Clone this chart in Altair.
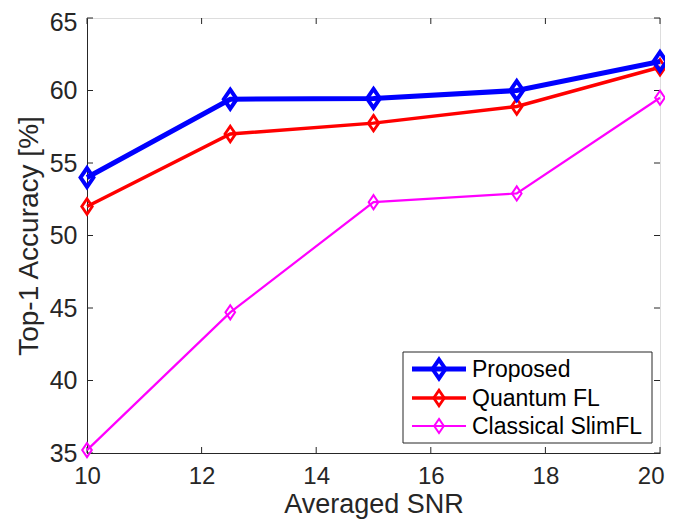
import altair as alt
import pandas as pd

snr = [10, 12.5, 15, 17.5, 20]
proposed = [54.0, 59.4, 59.45, 60.0, 62.0]
quantum = [52.0, 57.0, 57.75, 58.9, 61.6]
classical = [35.2, 44.7, 52.3, 52.9, 59.5]

names = ["Proposed", "Quantum FL", "Classical SlimFL"]
colors = ["#0000FF", "#FF0000", "#FF00FF"]
widths = [5, 3.5, 2.2]
msizes = [360, 240, 200]
mstroke = [4, 2.8, 2]

x_ticks = [10, 12, 14, 16, 18, 20]
y_ticks = [35, 40, 45, 50, 55, 60, 65]

W, H = 573, 435
FONT = "Liberation Sans"
AX = "#262626"
DIAMOND = "M0,-1L0.68,0L0,1L-0.68,0Z"

xs = alt.Scale(domain=[10, 20], nice=False, zero=False)
ys = alt.Scale(domain=[35, 65], nice=False, zero=False)

series = [proposed, quantum, classical]
layers = []

# ticks inside the box
xt = pd.DataFrame({"x": x_ticks})
yt = pd.DataFrame({"y": y_ticks})
layers.append(alt.Chart(xt).mark_rule(color=AX, strokeWidth=1).encode(
    x=alt.X("x:Q", scale=xs), y=alt.value(H), y2=alt.value(H - 6)))
layers.append(alt.Chart(xt).mark_rule(color=AX, strokeWidth=1).encode(
    x=alt.X("x:Q", scale=xs), y=alt.value(0), y2=alt.value(6)))
layers.append(alt.Chart(yt).mark_rule(color=AX, strokeWidth=1).encode(
    y=alt.Y("y:Q", scale=ys), x=alt.value(0), x2=alt.value(6)))
layers.append(alt.Chart(yt).mark_rule(color=AX, strokeWidth=1).encode(
    y=alt.Y("y:Q", scale=ys), x=alt.value(W), x2=alt.value(W - 6)))

for i in [2, 1, 0]:
    df = pd.DataFrame({"snr": snr, "acc": series[i]})
    base = alt.Chart(df).encode(
        x=alt.X("snr:Q", scale=xs,
                axis=alt.Axis(values=x_ticks, format="d", title="Averaged SNR", grid=False,
                              tickSize=0, domainColor=AX, labelColor=AX, labelFlush=False,
                              labelAlign=alt.ExprRef(expr="datum.value == 20 ? 'right' : 'center'"),
                              labelOffset=alt.ExprRef(expr="datum.value == 20 ? 4 : 0"),
                              labelFont=FONT, labelFontSize=24, labelPadding=11,
                              titleFont=FONT, titleFontSize=27, titleFontWeight="normal",
                              titleColor=AX, titlePadding=3)),
        y=alt.Y("acc:Q", scale=ys,
                axis=alt.Axis(values=y_ticks, format="d", title="Top-1 Accuracy [%]", grid=False,
                              tickSize=0, domainColor=AX, labelColor=AX, labelFlush=False,
                              labelOffset=alt.ExprRef(expr="datum.value == 65 ? 4 : 0"),
                              labelFont=FONT, labelFontSize=25, labelPadding=10,
                              titleFont=FONT, titleFontSize=28, titleFontWeight="normal",
                              titleColor=AX, titlePadding=6)),
    )
    layers.append(base.mark_line(color=colors[i], strokeWidth=widths[i]))
    layers.append(base.mark_point(shape=DIAMOND, filled=False, color=colors[i],
                                  size=msizes[i], strokeWidth=mstroke[i], opacity=1))

# legend
lx0, lx1, ly0, ly1 = 316, 565, 334, 425
rows = [351, 380, 408]
layers.append(alt.Chart(pd.DataFrame({"a": [0]})).mark_rect(
    fill="white", stroke=AX, strokeWidth=1).encode(
    x=alt.value(lx0), x2=alt.value(lx1), y=alt.value(ly0), y2=alt.value(ly1)))
for i in range(3):
    d = pd.DataFrame({"name": [names[i]]})
    layers.append(alt.Chart(d).mark_rule(color=colors[i], strokeWidth=widths[i]).encode(
        x=alt.value(325), x2=alt.value(379), y=alt.value(rows[i])))
    layers.append(alt.Chart(d).mark_point(shape=DIAMOND, filled=False, color=colors[i],
                                          size=msizes[i], strokeWidth=mstroke[i], opacity=1).encode(
        x=alt.value(352), y=alt.value(rows[i])))
    layers.append(alt.Chart(d).mark_text(align="left", baseline="middle", font=FONT,
                                         fontSize=23, color="black").encode(
        x=alt.value(385), y=alt.value(rows[i] + 1), text="name:N"))

chart = alt.layer(*layers).properties(
    width=W, height=H,
    autosize=alt.AutoSizeParams(type="none"),
    padding={"left": 79, "top": 10, "right": 5, "bottom": 67},
).configure_view(stroke=AX, strokeWidth=1).configure(background="white")

chart.save("out.html", embed_options={"renderer": "svg", "actions": False})
